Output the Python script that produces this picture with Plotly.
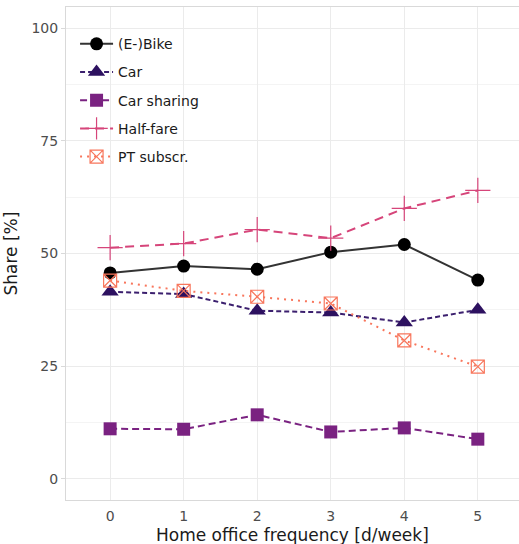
import plotly.graph_objects as go

x_days = [0, 1, 2, 3, 4, 5]
series_names = ["(E-)Bike", "Car", "Car sharing", "Half-fare", "PT subscr."]
bike = [45.7, 47.2, 46.5, 50.3, 52.0, 44.1]
car = [41.5, 41.0, 37.3, 36.9, 34.7, 37.5]
car_sharing = [11.1, 11.0, 14.2, 10.4, 11.3, 8.8]
half_fare = [51.3, 52.2, 55.3, 53.4, 60.0, 64.0]
pt_subscr = [44.0, 41.7, 40.4, 38.9, 30.7, 24.9]
y_ticks = [0, 25, 50, 75, 100]

values = [bike, car, car_sharing, half_fare, pt_subscr]
colors = ["#000000", "#2D1160", "#7A2281", "#D6457A", "#F8765C"]
line_colors = ["#333333", "#3B1F6E", "#7A2281", "#D6457A", "#F8765C"]
symbols = ["circle", "triangle-up", "square", "cross-thin-open", "square-x-open"]
sizes = [13, 15, 13, 18, 13]
dashes = ["solid", "5px,3px", "7px,4px", "9px,6px", "2px,5px"]

fig = go.Figure()
for i, (name, vals) in enumerate(zip(series_names, values)):
    fig.add_trace(go.Scatter(
        x=x_days, y=vals, name=name, mode="lines+markers",
        legendgroup=name,
        line=dict(color=line_colors[i], width=2, dash=dashes[i]),
        marker=dict(color=colors[i], symbol=symbols[i], size=sizes[i],
                    line=dict(color=colors[i], width=1.2 if symbols[i].endswith("open") else 0)),
    ))

font_family = "DejaVu Sans"
fig.update_layout(
    width=519, height=544,
    margin=dict(l=66, r=0, t=7, b=44, autoexpand=False),
    paper_bgcolor="white", plot_bgcolor="white",
    font=dict(family=font_family, color="#4D4D4D"),
    showlegend=True,
    legend=dict(x=0.02, y=0.957, xanchor="left", yanchor="top",
                bgcolor="rgba(0,0,0,0)", font=dict(size=14, color="#1A1A1A", family=font_family),
                tracegroupgap=7, itemwidth=33),
    shapes=[dict(type="rect", xref="paper", yref="paper", x0=0.0177, x1=0.3245, y0=0.653, y1=0.9939,
                 fillcolor="white", line=dict(width=0), layer="below")],
    xaxis=dict(range=[-0.6, 5.56], tickvals=x_days, ticktext=[str(v) for v in x_days],
               showgrid=True, gridcolor="#EBEBEB", gridwidth=1.2,
               showline=True, mirror=True, linecolor="#D9D9D9", linewidth=1,
               zeroline=False, ticks="outside", ticklen=3, tickcolor="rgba(0,0,0,0)",
               tickfont=dict(size=14, color="#4D4D4D"), automargin=False),
    yaxis=dict(range=[-4.7, 104.7], tickvals=y_ticks, showgrid=True, gridcolor="#EBEBEB", gridwidth=1.2,
               showline=True, linecolor="#D9D9D9", linewidth=1,
               zeroline=False, ticks="outside", ticklen=4, tickcolor="#D9D9D9",
               tickfont=dict(size=14, color="#4D4D4D"), automargin=False,
               minor=dict(tickvals=[12.5, 37.5, 62.5, 87.5], showgrid=True, gridcolor="#F4F4F4", gridwidth=0.8)),
    annotations=[
        dict(text="Home office frequency [d/week]", xref="paper", yref="paper",
             x=0.5, y=0, xanchor="center", yanchor="top", yshift=-23, showarrow=False,
             font=dict(size=17, color="#1A1A1A")),
        dict(text="Share [%]", xref="paper", yref="paper", textangle=-90,
             x=0, y=0.5, xanchor="right", yanchor="middle", xshift=-44, showarrow=False,
             font=dict(size=17, color="#1A1A1A")),
    ],
)

fig.write_html("out.html", config={"displayModeBar": False},
               post_script="document.body.style.margin='0';document.body.style.overflow='hidden';")
